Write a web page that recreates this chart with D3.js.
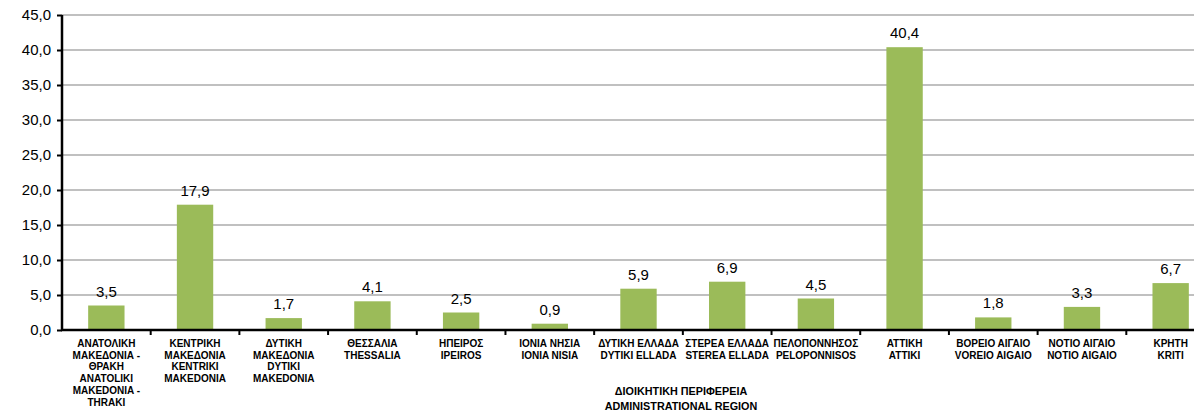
<!DOCTYPE html>
<html>
<head>
<meta charset="utf-8">
<script src="https://cdn.jsdelivr.net/npm/d3@7"></script>
<style>
  body { margin: 0; background: #fff; overflow: hidden; }
  svg { display: block; font-family: "Liberation Sans", Arial, sans-serif; }
</style>
</head>
<body>
<div id="chart"></div>
<script>
// region labels (greek / latin), one entry per line
const regions = [
    ["ΑΝΑΤΟΛΙΚΗ", "ΜΑΚΕΔΟΝΙΑ -", "ΘΡΑΚΗ", "ANATOLIKI", "MAKEDONIA -", "THRAKI"],
    ["ΚΕΝΤΡΙΚΗ", "ΜΑΚΕΔΟΝΙΑ", "KENTRIKI", "MAKEDONIA"],
    ["ΔΥΤΙΚΗ", "ΜΑΚΕΔΟΝΙΑ", "DYTIKI", "MAKEDONIA"],
    ["ΘΕΣΣΑΛΙΑ", "THESSALIA"],
    ["ΗΠΕΙΡΟΣ", "IPEIROS"],
    ["ΙΟΝΙΑ ΝΗΣΙΑ", "IONIA NISIA"],
    ["ΔΥΤΙΚΗ ΕΛΛΑΔΑ", "DYTIKI ELLADA"],
    ["ΣΤΕΡΕΑ ΕΛΛΑΔΑ", "STEREA ELLADA"],
    ["ΠΕΛΟΠΟΝΝΗΣΟΣ", "PELOPONNISOS"],
    ["ΑΤΤΙΚΗ", "ATTIKI"],
    ["ΒΟΡΕΙΟ ΑΙΓΑΙΟ", "VOREIO AIGAIO"],
    ["ΝΟΤΙΟ ΑΙΓΑΙΟ", "NOTIO AIGAIO"],
    ["ΚΡΗΤΗ", "KRITI"]
];
const values = [3.5, 17.9, 1.7, 4.1, 2.5, 0.9, 5.9, 6.9, 4.5, 40.4, 1.8, 3.3, 6.7];
const yTicks = [0, 5, 10, 15, 20, 25, 30, 35, 40, 45];
const axisTitle = ["ΔΙΟΙΚΗΤΙΚΗ ΠΕΡΙΦΕΡΕΙΑ", "ADMINISTRATIONAL REGION"];

const data = regions.map((r, i) => ({key: i, lines: r, value: values[i]}));

// dimensions - the plot runs a bit past the right edge, like the original
const margin = {top: 15, left: 62},
    width = 1153,
    height = 315;

const fmt = v => d3.format(".1f")(v).replace(".", ",");

const svg = d3.select("#chart")
    .append("svg")
    .attr("width", 1194)
    .attr("height", 413);

const g = svg.append("g")
    .attr("transform", `translate(${margin.left}, ${margin.top})`);

const x = d3.scaleBand()
    .domain(data.map(d => d.key))
    .range([0, width])
    .paddingInner(0.59)
    .paddingOuter(0.295);

const y = d3.scaleLinear()
    .domain([0, 45])
    .range([height, 0]);

// gridlines
g.append("g")
    .selectAll("line")
    .data(yTicks.filter(t => t > 0))
    .join("line")
    .attr("x1", 0)
    .attr("x2", width)
    .attr("y1", d => y(d))
    .attr("y2", d => y(d))
    .attr("stroke", "#c0c0c0")
    .attr("stroke-width", 2);

// bars
g.append("g")
    .selectAll("rect")
    .data(data)
    .join("rect")
    .attr("x", d => x(d.key))
    .attr("width", x.bandwidth())
    .attr("y", d => y(d.value))
    .attr("height", d => height - y(d.value))
    .attr("fill", "#9bbb59");

// value labels
g.append("g")
    .selectAll("text")
    .data(data)
    .join("text")
    .attr("x", d => x(d.key) + x.bandwidth() / 2)
    .attr("y", d => y(d.value) - 9)
    .attr("text-anchor", "middle")
    .attr("font-size", 15)
    .attr("fill", "#000")
    .text(d => fmt(d.value));

// y axis
const yAxis = g.append("g")
    .call(d3.axisLeft(y).tickValues(yTicks).tickSize(5).tickFormat(fmt));
yAxis.select(".domain").attr("stroke", "#000").attr("stroke-width", 2.5)
    .attr("d", `M0,${height}V0`);
yAxis.selectAll(".tick line").attr("stroke", "#000").attr("stroke-width", 2);
yAxis.selectAll(".tick text")
    .attr("x", -11)
    .attr("font-size", 15)
    .attr("font-family", "Liberation Sans, Arial, sans-serif")
    .attr("fill", "#000");

// x axis line with ticks between categories
const xAxis = g.append("g").attr("transform", `translate(0, ${height})`);
xAxis.append("line")
    .attr("x1", -1).attr("x2", width)
    .attr("stroke", "#000").attr("stroke-width", 2.5);
xAxis.selectAll(".sep")
    .data(d3.range(1, data.length + 1))
    .join("line")
    .attr("class", "sep")
    .attr("x1", i => x.step() * i)
    .attr("x2", i => x.step() * i)
    .attr("y1", 0).attr("y2", 5)
    .attr("stroke", "#000").attr("stroke-width", 2);

// category labels
const labels = xAxis.selectAll(".cat")
    .data(data)
    .join("text")
    .attr("class", "cat")
    .attr("text-anchor", "middle")
    .attr("font-size", 10)
    .attr("font-weight", "bold")
    .attr("fill", "#000")
    .attr("transform", d => `translate(${x(d.key) + x.bandwidth() / 2}, 17)`);
labels.selectAll("tspan")
    .data(d => d.lines)
    .join("tspan")
    .attr("x", 0)
    .attr("y", (d, i) => i * 11.7)
    .text(d => d);

// axis title
svg.append("text")
    .attr("x", 681)
    .attr("y", 395)
    .attr("text-anchor", "middle")
    .attr("font-size", 10.8)
    .attr("font-weight", "bold")
    .selectAll("tspan")
    .data(axisTitle)
    .join("tspan")
    .attr("x", 681)
    .attr("dy", (d, i) => i === 0 ? 0 : 14.5)
    .text(d => d);
</script>
</body>
</html>
